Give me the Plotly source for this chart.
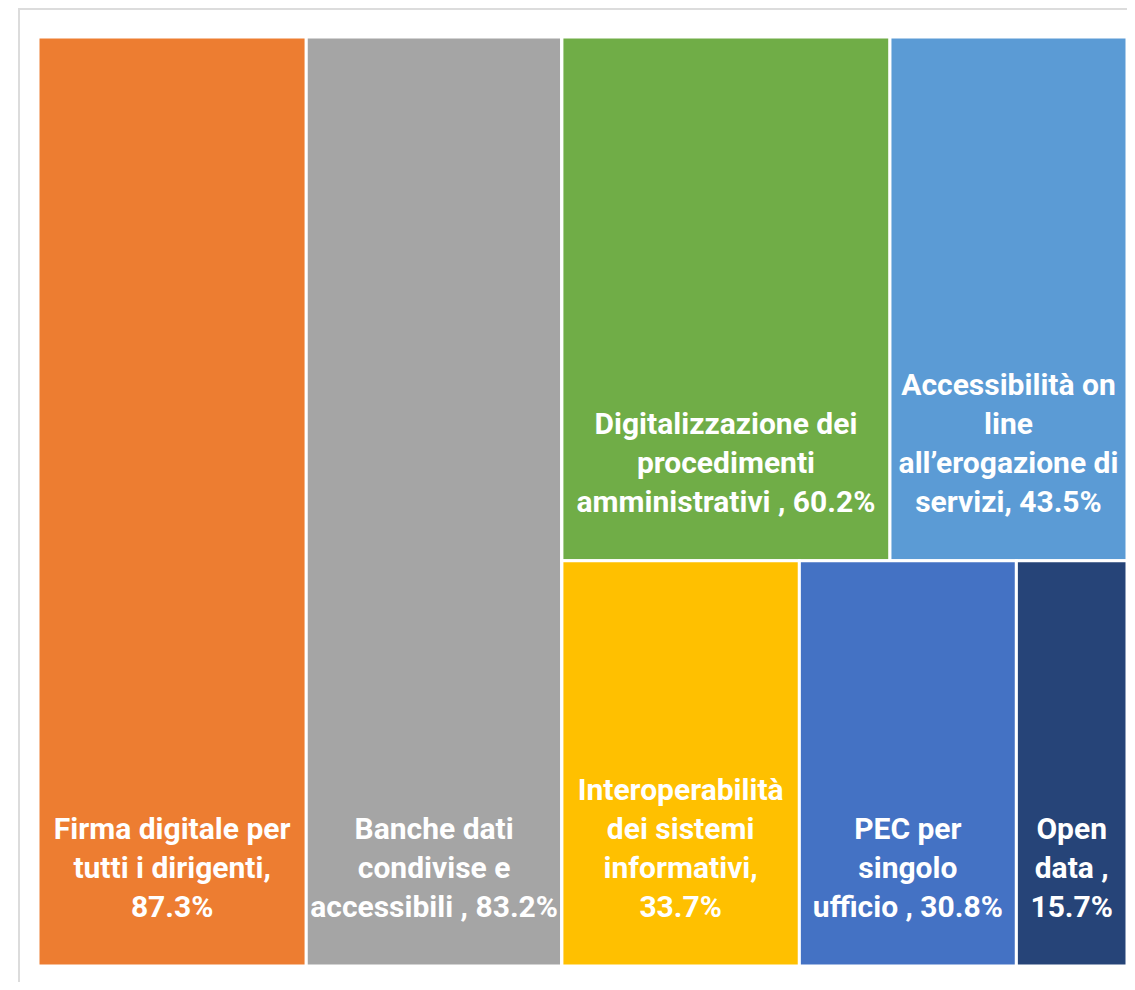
import plotly.graph_objects as go

# Data
categories = [
    "Firma digitale per tutti i dirigenti",
    "Banche dati condivise e accessibili",
    "Digitalizzazione dei procedimenti amministrativi",
    "Accessibilità on line all’erogazione di servizi",
    "Interoperabilità dei sistemi informativi",
    "PEC per singolo ufficio",
    "Open data",
]
values = [87.3, 83.2, 60.2, 43.5, 33.7, 30.8, 15.7]
label_text = [
    "Firma digitale per<br>tutti i dirigenti,<br>",
    "Banche dati<br>condivise e<br>accessibili , ",
    "Digitalizzazione dei<br>procedimenti<br>amministrativi , ",
    "Accessibilità on<br>line<br>all’erogazione di<br>servizi, ",
    "Interoperabilità<br>dei sistemi<br>informativi,<br>",
    "PEC per<br>singolo<br>ufficio , ",
    "Open<br>data ,<br>",
]
colors = ["#ED7D31", "#A5A5A5", "#70AD47", "#5B9BD5", "#FFC000", "#4472C4", "#264478"]
# grouping used for the arrangement of the tiles
group = ["root", "root", "top", "top", "bottom", "bottom", "bottom"]

leaf_ids = [f"c{i}" for i in range(len(categories))]
par_map = {"root": "", "rest": "root", "top": "rest", "bottom": "rest"}
val_map = {"root": 0, "rest": 0, "top": 0, "bottom": 0}
txt_map = {"root": "", "rest": "", "top": "", "bottom": ""}
col_map = {"root": "white", "rest": "white", "top": "white", "bottom": "white"}
lbl_map = {"root": "", "rest": "", "top": "", "bottom": ""}
for i, lid in enumerate(leaf_ids):
    par_map[lid] = group[i]
    val_map[lid] = values[i]
    txt_map[lid] = f"{label_text[i]}{values[i]:.1f}%<br>&nbsp;"
    col_map[lid] = colors[i]
    lbl_map[lid] = categories[i]

all_ids = ["root", leaf_ids[0], leaf_ids[1], "rest", "top", leaf_ids[2], leaf_ids[3],
           "bottom", leaf_ids[4], leaf_ids[5], leaf_ids[6]]

fig = go.Figure(go.Treemap(
    ids=all_ids,
    labels=[lbl_map[k] for k in all_ids],
    parents=[par_map[k] for k in all_ids],
    values=[val_map[k] for k in all_ids],
    text=[txt_map[k] for k in all_ids],
    branchvalues="remainder",
    sort=False,
    textinfo="text",
    textposition="bottom center",
    textfont=dict(family="Roboto, Arial, sans-serif", size=30,
                  color="white", weight="bold"),
    marker=dict(colors=[col_map[k] for k in all_ids],
                line=dict(color="white", width=3),
                pad=dict(t=0, l=0, r=0, b=0)),
    tiling=dict(packing="slice-dice", pad=0),
    pathbar=dict(visible=False),
    root=dict(color="white"),
    hoverinfo="skip",
))

fig.add_shape(type="rect", xref="paper", yref="paper",
              x0=-0.01745, x1=1.2, y0=-0.2, y1=1.0301,
              line=dict(color="#DCDCDC", width=2), fillcolor="rgba(0,0,0,0)")

fig.update_layout(
    width=1119, height=974,
    margin=dict(l=30, r=0, t=29, b=16),
    paper_bgcolor="white",
    showlegend=False,
)

fig.write_html("out.html")
